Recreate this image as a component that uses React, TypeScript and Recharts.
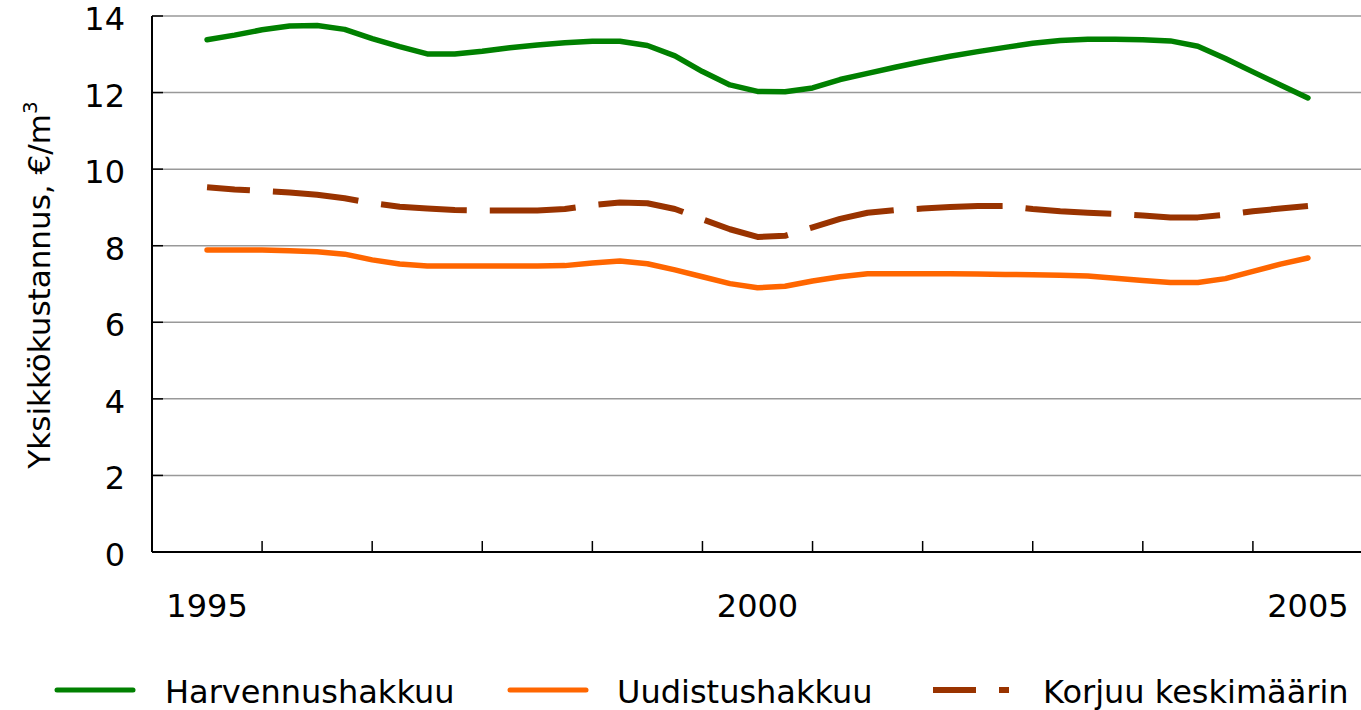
import React from "react";
import { LineChart, Line, XAxis, YAxis, CartesianGrid } from "recharts";

const FONT = '"DejaVu Sans", Verdana, sans-serif';

// quarterly points, 1995 .. 2005
const quarters = [
  1995, 1995.25, 1995.5, 1995.75, 1996, 1996.25, 1996.5, 1996.75,
  1997, 1997.25, 1997.5, 1997.75, 1998, 1998.25, 1998.5, 1998.75,
  1999, 1999.25, 1999.5, 1999.75, 2000, 2000.25, 2000.5, 2000.75,
  2001, 2001.25, 2001.5, 2001.75, 2002, 2002.25, 2002.5, 2002.75,
  2003, 2003.25, 2003.5, 2003.75, 2004, 2004.25, 2004.5, 2004.75,
  2005,
];

const harvennus = [
  13.38, 13.5, 13.64, 13.74, 13.75, 13.65, 13.41, 13.2,
  13.01, 13.01, 13.08, 13.17, 13.24, 13.3, 13.34, 13.34,
  13.23, 12.96, 12.55, 12.2, 12.03, 12.02, 12.12, 12.34,
  12.5, 12.66, 12.81, 12.95, 13.07, 13.18, 13.29, 13.36,
  13.39, 13.39, 13.38, 13.35, 13.21, 12.89, 12.54, 12.2,
  11.86,
];

const uudistus = [
  7.89, 7.89, 7.89, 7.87, 7.84, 7.78, 7.63, 7.52,
  7.47, 7.47, 7.47, 7.47, 7.47, 7.48, 7.55, 7.6,
  7.53, 7.37, 7.19, 7.01, 6.9, 6.94, 7.08, 7.19,
  7.27, 7.27, 7.27, 7.27, 7.26, 7.25, 7.24, 7.23,
  7.21, 7.15, 7.09, 7.04, 7.04, 7.14, 7.33, 7.52,
  7.68,
];

const korjuu = [
  9.53, 9.47, 9.43, 9.39, 9.33, 9.24, 9.11, 9.02,
  8.97, 8.93, 8.92, 8.92, 8.92, 8.96, 9.06, 9.13,
  9.11, 8.96, 8.69, 8.43, 8.23, 8.26, 8.48, 8.7,
  8.86, 8.93, 8.97, 9.01, 9.04, 9.04, 8.96, 8.9,
  8.86, 8.83, 8.79, 8.74, 8.74, 8.81, 8.9, 8.97,
  9.04,
];

const yearLabels = [1995, 2000, 2005];
const halfYearTicks = [
  1995.5, 1996.5, 1997.5, 1998.5, 1999.5, 2000.5, 2001.5, 2002.5, 2003.5, 2004.5,
];
const yTicks = [0, 2, 4, 6, 8, 10, 12, 14];

const series = [
  { key: "harvennus", name: "Harvennushakkuu", color: "#008000", dashed: false },
  { key: "uudistus", name: "Uudistushakkuu", color: "#FF6600", dashed: false },
  { key: "korjuu", name: "Korjuu keskimäärin", color: "#993300", dashed: true },
];

const data = quarters.map((t, i) => ({
  t,
  harvennus: harvennus[i],
  uudistus: uudistus[i],
  korjuu: korjuu[i],
}));

const xTicks = [...halfYearTicks, ...yearLabels].sort((a, b) => a - b);

function XTick(props: any) {
  const { x, y, payload } = props;
  const v = payload.value;
  if (yearLabels.includes(v)) {
    return (
      <text x={x} y={y + 65} textAnchor="middle" fontSize={32} fontFamily={FONT} fill="#000">
        {v}
      </text>
    );
  }
  return <line x1={x} x2={x} y1={y} y2={y - 11} stroke="#000" strokeWidth={1.5} />;
}

function YTick(props: any) {
  const { x, y, payload } = props;
  return (
    <g>
      <line x1={x} x2={x + 11} y1={y} y2={y} stroke="#000" strokeWidth={1.5} />
      <text x={x - 27} y={y + 14} textAnchor="end" fontSize={32} fontFamily={FONT} fill="#000">
        {payload.value}
      </text>
    </g>
  );
}

function YTitle() {
  return (
    <text
      transform="translate(50, 285) rotate(-90)"
      textAnchor="middle"
      fontSize={31}
      fontFamily={FONT}
      fill="#000"
    >
      Yksikkökustannus,  €/m
      <tspan dy={-13} fontSize={20}>
        3
      </tspan>
    </text>
  );
}

// legend positions
const legendPos = [
  { x1: 57, x2: 133, tx: 165 },
  { x1: 510, x2: 586, tx: 617 },
  { x1: 933, x2: 1009, tx: 1043 },
];

function ChartLegend() {
  return (
    <svg width={1361} height={710} style={{ position: "absolute", left: 0, top: 0, pointerEvents: "none" }}>
      {series.map((s, i) => {
        const p = legendPos[i];
        return (
          <g key={s.key}>
            <line
              x1={p.x1}
              x2={p.x2}
              y1={690}
              y2={690}
              stroke={s.color}
              strokeWidth={s.dashed ? 6 : 5}
              strokeLinecap={s.dashed ? "butt" : "round"}
              strokeDasharray={s.dashed ? "43 23 86" : undefined}
            />
            <text x={p.tx} y={703} fontSize={32} fontFamily={FONT} fill="#000">
              {s.name}
            </text>
          </g>
        );
      })}
    </svg>
  );
}

export default function App() {
  return (
    <div
      style={{
        position: "absolute",
        left: 0,
        top: 0,
        width: 1361,
        height: 710,
        overflow: "hidden",
        background: "#fff",
      }}
    >
      <LineChart width={1363} height={710} data={data} margin={{ top: 16, right: 0, bottom: 0, left: 0 }}>
        <CartesianGrid horizontal={true} vertical={false} stroke="#999999" strokeWidth={1.5} />
        <XAxis
          dataKey="t"
          type="number"
          domain={[1994.5, 2005.5]}
          ticks={xTicks}
          interval={0}
          height={158}
          tickSize={0}
          tickMargin={0}
          tickLine={false}
          axisLine={{ stroke: "#000", strokeWidth: 2 }}
          tick={(p: any) => <XTick {...p} />}
        />
        <YAxis
          type="number"
          domain={[0, 14]}
          ticks={yTicks}
          interval={0}
          width={152}
          tickSize={0}
          tickMargin={0}
          tickLine={false}
          axisLine={{ stroke: "#000", strokeWidth: 2 }}
          tick={(p: any) => <YTick {...p} />}
          label={{ content: () => <YTitle /> }}
        />
        {series.map((s) => (
          <Line
            key={s.key}
            dataKey={s.key}
            name={s.name}
            type="linear"
            stroke={s.color}
            strokeWidth={s.dashed ? 6 : 5.5}
            strokeLinecap={s.dashed ? "butt" : "round"}
            strokeLinejoin="round"
            strokeDasharray={s.dashed ? "86 23" : undefined}
            strokeDashoffset={s.dashed ? 43 : undefined}
            dot={false}
            activeDot={false}
            isAnimationActive={false}
          />
        ))}
      </LineChart>
      <ChartLegend />
    </div>
  );
}
